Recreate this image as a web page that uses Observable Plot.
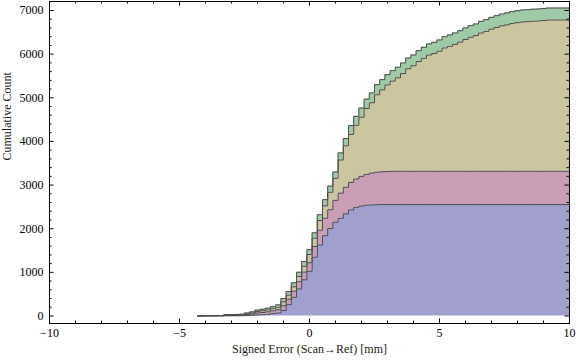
<!DOCTYPE html>
<html><head><meta charset="utf-8">
<script src="https://cdn.jsdelivr.net/npm/d3@7"></script>
<script src="https://cdn.jsdelivr.net/npm/@observablehq/plot@0.6"></script>
<style>html,body{margin:0;padding:0;background:#fff;}</style>
</head><body><div id="chart"></div>
<script>
// ---- data (cumulative counts per series, bins of width 0.2 starting at -4.3) ----
const seriesNames = ["s1", "s2", "s3", "s4"];
const seriesColors = ["#a09fce", "#cb9eb8", "#cbc6a0", "#9ecaa8"];
const binStart = -4.3;
const binWidth = 0.2;
const xEnd = 10;

const blue = [0,1,1,1,2,3,4,5,6,10,15,25,30,40,55,70,
  126,260,430,620,829,1026,1347,1625,1840,2005,2150,2240,2340,2430,2490,2520,2540,2545,2550,
  2553,2553,2553,2553,2553,2553,2553,2553,2553,2553,2553,2553,2553,2553,2553,2553,2553,2553,2553,2553,
  2553,2553,2553,2553,2553,2553,2553,2553,2553,2553,2553,2553,2553,2553,2553,2553,2553];
const pink = [1,2,2,3,3,7,8,9,10,20,30,45,50,55,65,75,
  110,125,140,165,178,195,245,340,400,430,500,575,610,630,650,680,705,730,745,
  752,757,763,763,763,763,763,763,763,763,763,763,763,763,763,763,763,763,763,763,
  763,763,763,763,763,763,763,763,763,763,763,763,763,763,763,763,763];
const tan = [1,2,3,3,3,10,10,11,12,18,25,35,40,45,50,55,
  90,92,100,120,133,187,190,222,285,400,505,760,950,1100,1230,1355,1510,1611,1775,
  1877,1984,2067,2142,2238,2350,2417,2514,2588,2663,2698,2751,2825,2863,2907,2959,3020,3071,3109,3168,
  3206,3258,3296,3332,3355,3384,3406,3420,3429,3439,3443,3454,3466,3466,3466,3466,3466];
const green = [1,3,3,3,3,10,11,12,14,22,25,30,35,40,45,55,
  75,83,90,98,110,112,123,133,140,140,145,162,165,202,205,210,215,225,230,
  233,236,239,242,244,246,248,250,252,254,256,258,260,261,262,263,264,265,266,267,
  268,269,270,271,272,273,274,275,275,275,275,275,275,275,275,275,275];

const xTickValues = [-10, -5, 0, 5, 10];
const xMinorValues = [-9,-8,-7,-6,-4,-3,-2,-1,1,2,3,4,6,7,8,9];
const yTickValues = [0, 1000, 2000, 3000, 4000, 5000, 6000, 7000];
const yMinorValues = d3.range(200, 7000, 200).filter(v => v % 1000 !== 0);
const xLabel = "Signed Error (Scan\u2192Ref) [mm]";
const yLabel = "Cumulative Count";

// ---- build table ----
const seriesValues = [blue, pink, tan, green];
const points = [];
seriesValues.forEach((vals, s) => {
  vals.forEach((v, i) => points.push({x: +(binStart + binWidth * i).toFixed(2), y: v, series: seriesNames[s]}));
  points.push({x: xEnd, y: vals[vals.length - 1], series: seriesNames[s]});
});

const W = 576, H = 362, mL = 49, mR = 7, mT = 1, mB = 39;
const fw = W - mL - mR, fh = H - mT - mB;
const fmt = d => d < 0 ? "\u2212" + (-d) : String(d);
const edge = "#4d4d4d";

const chart = Plot.plot({
  width: W, height: H,
  marginLeft: mL, marginRight: mR, marginTop: mT, marginBottom: mB,
  style: {fontFamily: "'Liberation Serif', 'Times New Roman', serif", fontSize: "12px", color: "#000", background: "#fff"},
  x: {domain: [-10, 10]},
  y: {domain: [-172, 7206]},
  color: {domain: seriesNames, range: seriesColors},
  marks: [
    Plot.areaY(points, {x: "x", y: "y", fill: "series", curve: "step-after"}),
    Plot.lineY(points, Plot.stackY2({x: "x", y: "y", z: "series", curve: "step-after", stroke: edge, strokeWidth: 1})),
    Plot.frame({stroke: "#000", strokeWidth: 1}),
    // ticks (inward, all four sides)
    Plot.tickX(xTickValues, {x: d => d, insetTop: fh - 4.5, stroke: "#000"}),
    Plot.tickX(xMinorValues, {x: d => d, insetTop: fh - 2.5, stroke: "#000"}),
    Plot.tickX(xTickValues, {x: d => d, insetBottom: fh - 4.5, stroke: "#000"}),
    Plot.tickX(xMinorValues, {x: d => d, insetBottom: fh - 2.5, stroke: "#000"}),
    Plot.tickY(yTickValues, {y: d => d, insetRight: fw - 4.5, stroke: "#000"}),
    Plot.tickY(yMinorValues, {y: d => d, insetRight: fw - 2.5, stroke: "#000"}),
    Plot.tickY(yTickValues, {y: d => d, insetLeft: fw - 4.5, stroke: "#000"}),
    Plot.tickY(yMinorValues, {y: d => d, insetLeft: fw - 2.5, stroke: "#000"}),
    Plot.axisX(xTickValues, {tickSize: 0, tickPadding: 5, tickFormat: fmt, label: null, fontSize: 12}),
    Plot.axisY(yTickValues, {tickSize: 0, tickPadding: 6, tickFormat: fmt, label: null, fontSize: 12}),
    Plot.text([xLabel], {frameAnchor: "bottom", dy: 29, text: d => d, fontSize: 12, fill: "#221"}),
    Plot.text([yLabel], {frameAnchor: "left", dx: -42, dy: -2, rotate: -90, text: d => d, fontSize: 12, fill: "#221"})
  ]
});
document.getElementById("chart").appendChild(chart);
</script>
</body></html>
